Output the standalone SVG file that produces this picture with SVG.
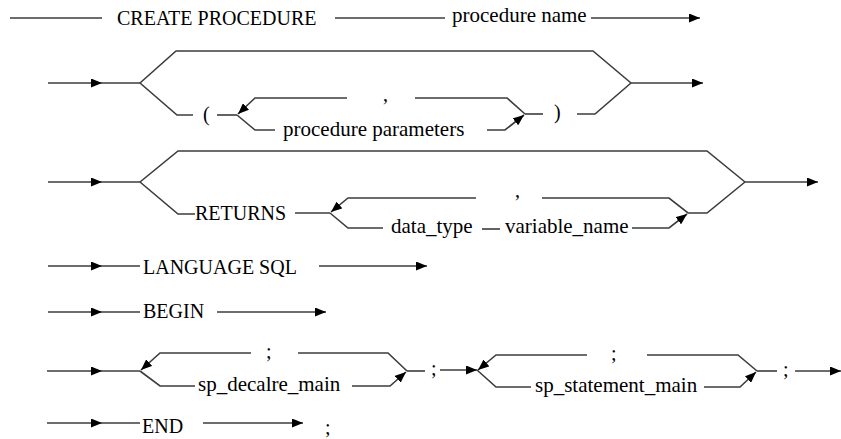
<svg xmlns="http://www.w3.org/2000/svg" width="841" height="439" viewBox="0 0 841 439">
<defs>
<marker id="ah" markerUnits="userSpaceOnUse" markerWidth="11" markerHeight="9" refX="11" refY="4.5" orient="auto" viewBox="0 0 11 9">
<path d="M0,0 L11,4.5 L0,9 z" fill="#000"/>
</marker>
</defs>
<rect width="841" height="439" fill="#fff"/>
<g id="connectors" fill="none" stroke="#3c3c3c" stroke-width="1.6">
<path d="M10,18 H102"/>
<path d="M335,18 H445"/>
<path marker-end="url(#ah)" d="M591,18 H700"/>
<path marker-end="url(#ah)" d="M48,83 H102"/><path d="M102,83 H140"/>
<path d="M140,83 L176,51 H593 L631,83"/>
<path marker-end="url(#ah)" d="M631,83 H703"/>
<path d="M140,83 L177,115 H193"/>
<path d="M217,115 H237"/>
<path marker-end="url(#ah)" d="M347,98 H255 L238,114"/>
<path d="M415,98 H507 L525,114"/>
<path d="M237,115 L255,130 H275"/>
<path marker-end="url(#ah)" d="M487,130 H505 L524,115"/>
<path d="M525,114 H543"/>
<path d="M577,114 H595 L631,83"/>
<path marker-end="url(#ah)" d="M48,182 H102"/><path d="M102,182 H140"/>
<path d="M140,182 L178,151 H707 L745,182"/>
<path marker-end="url(#ah)" d="M745,182 H818"/>
<path d="M140,182 L178,214 H195"/>
<path d="M295,213 H330"/>
<path marker-end="url(#ah)" d="M476,198 H348 L331,212"/>
<path d="M542,198 H669 L688,213 H707 L745,182"/>
<path d="M330,213 L348,228 H383"/>
<path d="M482,229 H500"/>
<path marker-end="url(#ah)" d="M632,228 H669 L687,214"/>
<path marker-end="url(#ah)" d="M48,266 H102"/><path d="M102,266 H140"/>
<path marker-end="url(#ah)" d="M319,266 H427"/>
<path marker-end="url(#ah)" d="M48,312 H102"/><path d="M102,312 H140"/>
<path marker-end="url(#ah)" d="M217,312 H326"/>
<path marker-end="url(#ah)" d="M47,371 H102"/><path d="M102,371 H140"/>
<path marker-end="url(#ah)" d="M251,353 H160 L141,370"/>
<path d="M298,353 H388 L407,371"/>
<path d="M140,371 L160,386 H195"/>
<path marker-end="url(#ah)" d="M352,386 H390 L406,372"/>
<path d="M407,371 H425"/>
<path marker-end="url(#ah)" d="M440,370 H477"/>
<path marker-end="url(#ah)" d="M587,355 H496 L478,370"/>
<path d="M647,355 H738 L757,371"/>
<path d="M477,370 L496,387 H531"/>
<path marker-end="url(#ah)" d="M704,387 H740 L756,372"/>
<path d="M757,371 H777"/>
<path marker-end="url(#ah)" d="M795,371 H841"/>
<path marker-end="url(#ah)" d="M47,423 H102"/><path d="M102,423 H140"/>
<path marker-end="url(#ah)" d="M203,423 H303"/>
</g>
<g id="create-procedure"><text font-family="Liberation Serif" font-size="20" x="117" y="25">CREATE PROCEDURE</text></g>
<g id="procedure-name"><text font-family="Liberation Serif" font-size="21" x="452" y="22">procedure name</text></g>
<g id="open-paren"><text font-family="Liberation Serif" font-size="20" x="203" y="121">(</text></g>
<g id="comma-1"><text font-family="Liberation Serif" font-size="20" x="383" y="101">,</text></g>
<g id="procedure-parameters"><text font-family="Liberation Serif" font-size="21" x="283" y="136">procedure parameters</text></g>
<g id="close-paren"><text font-family="Liberation Serif" font-size="20" x="554" y="119">)</text></g>
<g id="returns"><text font-family="Liberation Serif" font-size="20" x="195" y="220">RETURNS</text></g>
<g id="comma-2"><text font-family="Liberation Serif" font-size="20" x="515" y="197">,</text></g>
<g id="data-type"><text font-family="Liberation Serif" font-size="21" x="391" y="233">data_type</text></g>
<g id="variable-name"><text font-family="Liberation Serif" font-size="21" x="505" y="233">variable_name</text></g>
<g id="language-sql"><text font-family="Liberation Serif" font-size="20" x="143" y="274">LANGUAGE SQL</text></g>
<g id="begin"><text font-family="Liberation Serif" font-size="20" x="143" y="318">BEGIN</text></g>
<g id="semi-1"><text font-family="Liberation Serif" font-size="20" x="266" y="358">;</text></g>
<g id="sp-decalre-main"><text font-family="Liberation Serif" font-size="21" x="198" y="391">sp_decalre_main</text></g>
<g id="semi-2"><text font-family="Liberation Serif" font-size="20" x="431" y="375">;</text></g>
<g id="semi-3"><text font-family="Liberation Serif" font-size="20" x="611" y="360">;</text></g>
<g id="sp-statement-main"><text font-family="Liberation Serif" font-size="21" x="535" y="392">sp_statement_main</text></g>
<g id="semi-4"><text font-family="Liberation Serif" font-size="20" x="783" y="376">;</text></g>
<g id="end"><text font-family="Liberation Serif" font-size="20" x="142" y="433">END</text></g>
<g id="semi-5"><text font-family="Liberation Serif" font-size="20" x="325" y="434">;</text></g>
</svg>
